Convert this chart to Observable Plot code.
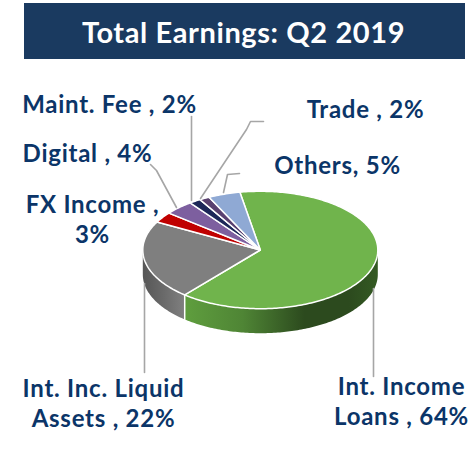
<!DOCTYPE html>
<html><head><meta charset="utf-8">
<script src="https://cdn.jsdelivr.net/npm/d3@7"></script>
<script src="https://cdn.jsdelivr.net/npm/@observablehq/plot@0.6"></script>
<style>
html,body{margin:0;padding:0;background:#fff;width:473px;height:459px;overflow:hidden}
#title{box-sizing:border-box;margin:3px 0 0 24px;width:441px;height:56px;background:#1a3a60;color:#fff;
font:700 29px Lato,sans-serif;letter-spacing:.6px;display:flex;align-items:center;justify-content:center;padding-right:2px}
svg{display:block}
svg text{letter-spacing:.75px}
</style></head><body>
<div id="title">Total Earnings: Q2 2019</div>
<div id="chart"></div>
<script>
// Slices clockwise from the start angle
const categories = ["Int. Income Loans","Int. Inc. Liquid Assets","FX Income","Digital","Maint. Fee","Trade","Others"];
const labelledPercent = [64,22,3,4,2,2,5];
// Shares (labels are rounded)
const drawnShare = [63.9,21.8,2.9,4,1.6,1.4,4.4];
const labelTexts = ["Int. Income\nLoans , 64%","Int. Inc. Liquid\nAssets , 22%","FX Income ,\n3%","Digital , 4%","Maint. Fee , 2%","Trade , 2%","Others, 5%"];

// Layout (separate from data)
const colors = ["#70b44c","#7f7f7f","#c00000","#7d5f9f","#1c2758","#59406f","#8fa9d4"];
const cx=259.8, cy=249.5, rx=117.5, ry=58.7, depth=24.5, startDeg=-10;
const labelPos = [[401,400],[103,402],[92,218],[87,152],[109,103],[365,108],[337,164]];
const leaders = [
  [[373,288],[373,376]],
  [[144,283],[144,372]],
  [[176,207],[156,170],[150,164]],
  [[191,200],[191,116]],
  [[200,198],[246,129],[250,121],[263,121]],
  [[223,192],[227,174],[239,173]]
];

const pt=(deg,dy=0)=>{const a=deg*Math.PI/180;return {x:cx+rx*Math.sin(a),y:cy-ry*Math.cos(a)+dy};};
const total=d3.sum(drawnShare);
let acc=startDeg;
const slices=drawnShare.map((v,i)=>{const a0=acc;acc+=v/total*360;return {name:categories[i],a0,a1:acc,color:colors[i]};});
const arc=(a0,a1,dy=0)=>{const n=Math.max(2,Math.ceil(Math.abs(a1-a0)));return d3.range(n+1).map(k=>pt(a0+(a1-a0)*k/n,dy));};
const topPts=s=>[{x:cx,y:cy},...arc(s.a0,s.a1),{x:cx,y:cy}];
const sidePts=(a0,a1)=>{const p=[...arc(a0,a1),...arc(a1,a0,depth)];return [...p,p[0]];};

const gradients=()=>{
  const defs=d3.create("svg:defs");
  const add=(id,stops)=>{const g=defs.append("linearGradient").attr("id",id).attr("x1",0).attr("x2",1).attr("y1",0).attr("y2",0);
    stops.forEach(([o,c])=>g.append("stop").attr("offset",o).attr("stop-color",c));};
  add("sideGreen",[[0,"#5f9e3e"],[.3,"#4f8535"],[.62,"#2c4a1e"],[.85,"#2c4a1e"],[1,"#345a23"]]);
  add("sideGray",[[0,"#565656"],[.5,"#6a6a6a"],[1,"#808080"]]);
  return defs.node();
};

const greenEnd=slices[0].a1, grayEnd=slices[1].a1;
const marks=[
  gradients,
  Plot.line(sidePts(90,greenEnd),{x:"x",y:"y",fill:"url(#sideGreen)",stroke:"none"}),
  Plot.line(sidePts(greenEnd,270),{x:"x",y:"y",fill:"url(#sideGray)",stroke:"none"}),
  Plot.line([pt(greenEnd),pt(greenEnd,depth)],{x:"x",y:"y",stroke:"#ffffff",strokeWidth:1.5}),
  ...slices.map(s=>Plot.line(topPts(s),{x:"x",y:"y",fill:s.color,stroke:"#ffffff",strokeWidth:1.5,strokeLinejoin:"round"})),
  ...leaders.map(l=>Plot.line(l.map(([x,y])=>({x,y})),{x:"x",y:"y",stroke:"#a6a6a6",strokeWidth:1.6})),
  Plot.text(labelTexts.map((t,i)=>({t,x:labelPos[i][0],y:labelPos[i][1]})),
    {x:"x",y:"y",text:"t",fill:"#0b3568",fontSize:24,fontWeight:700,fontFamily:"Lato, sans-serif",lineHeight:1.22,textAnchor:"middle"})
];
const chart=Plot.plot({width:473,height:400,margin:0,
  x:{domain:[0,473],range:[0,473],axis:null},
  y:{domain:[59,459],range:[0,400],axis:null},
  marks});
document.getElementById("chart").append(chart);
</script>
</body></html>
